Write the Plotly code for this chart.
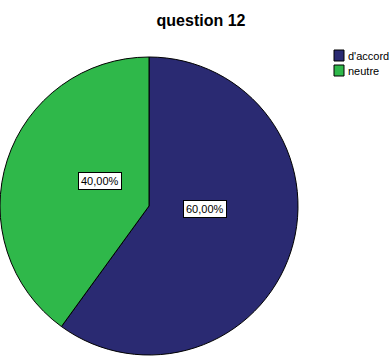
import plotly.graph_objects as go

# Survey responses for question 12
categories = ["d'accord", "neutre"]
shares = [60.0, 40.0]
colors = ["#2A2A72", "#2FB84A"]

W, H = 390, 363
FONT = "Liberation Sans, Arial"

# Pie geometry in pixels (center and radius)
cx, cy, r = 149, 206, 149

fig = go.Figure(
    go.Pie(
        labels=categories,
        values=shares,
        sort=False,
        direction="clockwise",
        rotation=0,
        textinfo="none",
        hoverinfo="label+percent",
        showlegend=False,
        marker=dict(colors=colors, line=dict(color="black", width=1)),
        domain=dict(
            x=[(cx - r) / W, (cx + r) / W],
            y=[(H - cy - r) / H, (H - cy + r) / H],
        ),
    )
)

def fmt(v):
    return f"{v:.2f}".replace(".", ",") + "%"

# Boxed value labels placed inside each slice
label_pos = {"d'accord": (205, 209), "neutre": (78, 181)}
for cat, val in zip(categories, shares):
    px, py = label_pos[cat]
    fig.add_annotation(
        x=px / W, y=1 - py / H, xref="paper", yref="paper",
        text=fmt(val), showarrow=False,
        font=dict(family=FONT, size=11, color="black"),
        bgcolor="white", bordercolor="black", borderwidth=1, borderpad=2,
    )

# Compact legend: outlined colour swatch followed by the category name
lx, ly, sw, sh, step = 334, 50, 10, 11, 15
for i, (cat, col) in enumerate(zip(categories, colors)):
    top = ly + i * step
    fig.add_shape(
        type="rect", xref="paper", yref="paper",
        x0=lx / W, x1=(lx + sw) / W,
        y0=1 - (top + sh) / H, y1=1 - top / H,
        fillcolor=col, line=dict(color="black", width=1),
    )
    fig.add_annotation(
        x=(lx + sw + 2) / W, y=1 - (top + sh / 2) / H,
        xref="paper", yref="paper", xanchor="left", yanchor="middle",
        text=cat, showarrow=False,
        font=dict(family=FONT, size=11, color="black"),
    )

fig.update_layout(
    width=W, height=H,
    margin=dict(l=0, r=0, t=0, b=0, autoexpand=False),
    paper_bgcolor="white", plot_bgcolor="white",
    title=dict(
        text="<b>question 12</b>",
        x=201 / W, xanchor="center", y=1 - 20 / H, yanchor="middle",
        font=dict(family=FONT, size=16, color="black"),
    ),
    showlegend=False,
)

fig.write_html("out.html")
